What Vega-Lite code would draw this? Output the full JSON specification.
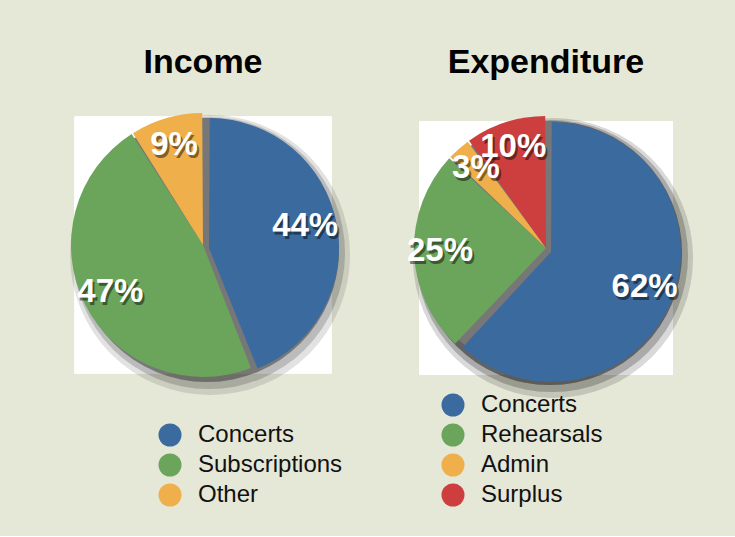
{
  "$schema": "https://vega.github.io/schema/vega-lite/v6.json",
  "background": "#e5e7d7",
  "padding": {"left": 53, "top": 46, "right": 39, "bottom": 29},
  "datasets": {
    "budget": [
      {"chart": "Income", "category": "Concerts", "value": 0.44, "rank": 1},
      {"chart": "Income", "category": "Subscriptions", "value": 0.47, "rank": 2},
      {"chart": "Income", "category": "Other", "value": 0.09, "rank": 3},
      {"chart": "Expenditure", "category": "Concerts", "value": 0.62, "rank": 1},
      {"chart": "Expenditure", "category": "Rehearsals", "value": 0.25, "rank": 2},
      {"chart": "Expenditure", "category": "Admin", "value": 0.03, "rank": 3},
      {"chart": "Expenditure", "category": "Surplus", "value": 0.10, "rank": 4}
    ]
  },
  "spacing": 43,
  "hconcat": [
    {
      "title": {"text": "Income"},
      "width": 300,
      "height": 290,
      "data": {"name": "budget"},
      "transform": [{"filter": "datum.chart === 'Income'"}],
      "layer": [
        {"mark": {"type": "point", "shape": "square", "filled": true, "color": "white", "opacity": 1, "size": 66049}, "encoding": {}},
        {"mark": {"type": "point", "shape": "circle", "filled": true, "color": "#333333", "opacity": 0.05, "size": 78400, "xOffset": 7, "yOffset": 10}, "encoding": {}},
        {"mark": {"type": "point", "shape": "circle", "filled": true, "color": "#333333", "opacity": 0.08, "size": 73984, "xOffset": 6, "yOffset": 8}, "encoding": {}},
        {"mark": {"type": "point", "shape": "circle", "filled": true, "color": "#333333", "opacity": 0.2, "size": 69696, "xOffset": 4, "yOffset": 5}, "encoding": {}},
        {"mark": {"type": "point", "shape": "circle", "filled": true, "color": "#777777", "opacity": 1, "size": 64000}, "encoding": {}},
        {
          "mark": {"type": "arc", "outerRadius": 132, "padAngle": 0.012, "strokeWidth": 0},
          "encoding": {
            "theta": {"field": "value", "type": "quantitative", "stack": true},
            "order": {"field": "rank", "type": "quantitative"},
            "color": {
              "field": "category", "type": "nominal",
              "scale": {"domain": ["Concerts", "Subscriptions", "Other"], "range": ["#3b6b9e", "#6ba55b", "#efaf4b"]},
              "legend": {"orient": "none", "legendX": 105, "legendY": 323, "title": null}
            },
            "fillOpacity": {"condition": {"test": "datum.category === 'Concerts'", "value": 0}, "value": 1}
          }
        },
        {
          "mark": {"type": "arc", "outerRadius": 130, "padAngle": 0.012, "strokeWidth": 0, "xOffset": 6, "yOffset": 3},
          "encoding": {
            "theta": {"field": "value", "type": "quantitative", "stack": true},
            "order": {"field": "rank", "type": "quantitative"},
            "color": {"field": "category", "type": "nominal"},
            "fillOpacity": {"condition": {"test": "datum.category === 'Concerts'", "value": 1}, "value": 0}
          }
        },
        {
          "mark": {"type": "text", "radius": 104, "fontSize": 33, "fontWeight": "bold", "fill": "black", "opacity": 0.45, "dx": 2, "dy": 3},
          "encoding": {
            "theta": {"field": "value", "type": "quantitative", "stack": true},
            "order": {"field": "rank", "type": "quantitative"},
            "text": {"field": "value", "type": "quantitative", "format": ".0%"}
          }
        },
        {
          "mark": {"type": "text", "radius": 104, "fontSize": 33, "fontWeight": "bold", "fill": "white"},
          "encoding": {
            "theta": {"field": "value", "type": "quantitative", "stack": true},
            "order": {"field": "rank", "type": "quantitative"},
            "text": {"field": "value", "type": "quantitative", "format": ".0%"}
          }
        }
      ]
    },
    {
      "title": {"text": "Expenditure"},
      "width": 300,
      "height": 296,
      "data": {"name": "budget"},
      "transform": [{"filter": "datum.chart === 'Expenditure'"}],
      "layer": [
        {"mark": {"type": "point", "shape": "square", "filled": true, "color": "white", "opacity": 1, "size": 64516}, "encoding": {}},
        {"mark": {"type": "point", "shape": "circle", "filled": true, "color": "#333333", "opacity": 0.05, "size": 78400, "xOffset": 7, "yOffset": 10}, "encoding": {}},
        {"mark": {"type": "point", "shape": "circle", "filled": true, "color": "#333333", "opacity": 0.08, "size": 73984, "xOffset": 6, "yOffset": 8}, "encoding": {}},
        {"mark": {"type": "point", "shape": "circle", "filled": true, "color": "#333333", "opacity": 0.2, "size": 69696, "xOffset": 4, "yOffset": 5}, "encoding": {}},
        {"mark": {"type": "point", "shape": "circle", "filled": true, "color": "#777777", "opacity": 1, "size": 64000}, "encoding": {}},
        {
          "mark": {"type": "arc", "outerRadius": 132, "padAngle": 0.012, "strokeWidth": 0},
          "encoding": {
            "theta": {"field": "value", "type": "quantitative", "stack": true},
            "order": {"field": "rank", "type": "quantitative"},
            "color": {
              "field": "category", "type": "nominal",
              "scale": {"domain": ["Concerts", "Rehearsals", "Admin", "Surplus"], "range": ["#3b6b9e", "#6ba55b", "#efaf4b", "#cc3f3e"]},
              "legend": {"orient": "none", "legendX": 45, "legendY": 293, "title": null}
            },
            "fillOpacity": {"condition": {"test": "datum.category === 'Concerts'", "value": 0}, "value": 1}
          }
        },
        {
          "mark": {"type": "arc", "outerRadius": 130, "padAngle": 0.012, "strokeWidth": 0, "xOffset": 5, "yOffset": 4},
          "encoding": {
            "theta": {"field": "value", "type": "quantitative", "stack": true},
            "order": {"field": "rank", "type": "quantitative"},
            "color": {"field": "category", "type": "nominal"},
            "fillOpacity": {"condition": {"test": "datum.category === 'Concerts'", "value": 1}, "value": 0}
          }
        },
        {
          "mark": {"type": "text", "radius": 106, "fontSize": 33, "fontWeight": "bold", "fill": "black", "opacity": 0.45, "dx": 2, "dy": 3},
          "encoding": {
            "theta": {"field": "value", "type": "quantitative", "stack": true},
            "order": {"field": "rank", "type": "quantitative"},
            "text": {"field": "value", "type": "quantitative", "format": ".0%"}
          }
        },
        {
          "mark": {"type": "text", "radius": 106, "fontSize": 33, "fontWeight": "bold", "fill": "white"},
          "encoding": {
            "theta": {"field": "value", "type": "quantitative", "stack": true},
            "order": {"field": "rank", "type": "quantitative"},
            "text": {"field": "value", "type": "quantitative", "format": ".0%"}
          }
        }
      ]
    }
  ],
  "resolve": {"scale": {"color": "independent", "theta": "independent"}, "legend": {"color": "independent"}},
  "config": {
    "font": "Liberation Sans",
    "view": {"stroke": null},
    "title": {"fontSize": 34, "fontWeight": "bold", "color": "#000000", "offset": 20, "anchor": "middle"},
    "legend": {
      "symbolType": "circle",
      "symbolSize": 529,
      "symbolStrokeWidth": 0,
      "symbolOpacity": 1,
      "labelFontSize": 24,
      "labelColor": "#111111",
      "labelOffset": 16,
      "rowPadding": 6,
      "labelLimit": 300
    }
  }
}
